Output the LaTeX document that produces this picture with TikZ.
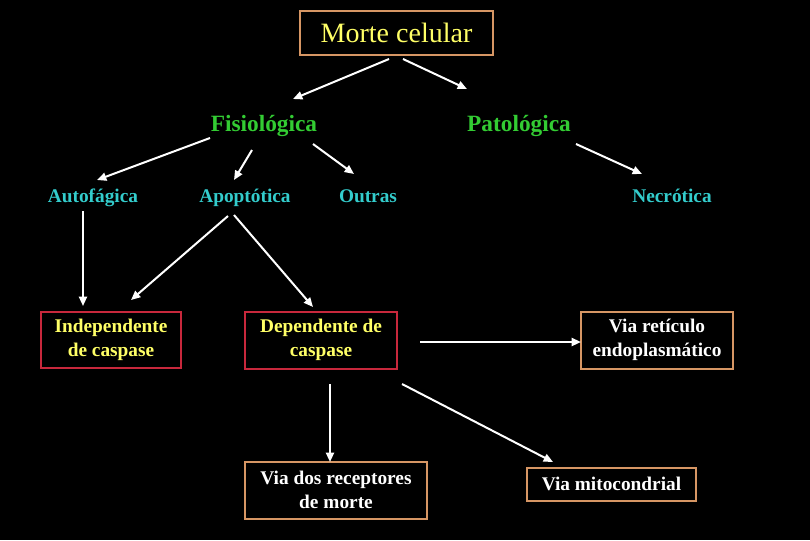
\documentclass[tikz,border=0pt]{standalone}
\usepackage{fontspec}
\setmainfont{Liberation Serif}
\usetikzlibrary{arrows.meta}
\definecolor{ylw}{RGB}{255,255,102}
\definecolor{cyn}{RGB}{51,204,204}
\definecolor{grn}{RGB}{51,204,51}
\definecolor{tan}{RGB}{214,150,100}
\definecolor{crim}{RGB}{200,40,60}
\tikzset{
  lvl/.style={font=\bfseries\fontsize{17.5}{20}\selectfont, text=grn, inner sep=0pt},
  kind/.style={font=\bfseries\fontsize{14.5}{18}\selectfont, text=cyn, inner sep=0pt},
  boxbase/.style={draw, line width=1.5pt, align=center, inner sep=0pt, font=\bfseries\fontsize{14.5}{18}\selectfont},
  redbox/.style={boxbase, draw=crim, text=ylw},
  tanbox/.style={boxbase, draw=tan, text=white},
  conn/.style={draw=white, line width=1.5pt, -{Triangle[length=7pt,width=6pt]}},
}
\begin{document}
\begin{tikzpicture}[x=0.75pt,y=-0.75pt]
\fill[black] (0,0) rectangle (810,540);
\useasboundingbox (0,0) rectangle (810,540);

\node[draw=tan, line width=1.5pt, minimum width=193*0.75pt, minimum height=44*0.75pt, inner sep=0pt,
      text=ylw, font=\fontsize{21}{24}\selectfont] (morte) at (396.5,33) {Morte celular};

\node[lvl] (fis) at (264,126) {Fisiológica};
\node[lvl] (pat) at (519,126) {Patológica};

\node[kind] (auto) at (93,198) {Autofágica};
\node[kind] (apo) at (245,198) {Apoptótica};
\node[kind] (out) at (368,196) {Outras};
\node[kind] (nec) at (672,196) {Necrótica};

\node[redbox, minimum width=140*0.75pt, minimum height=56*0.75pt] (indep) at (111,340) {Independente\\de caspase};
\node[redbox, minimum width=152*0.75pt, minimum height=57*0.75pt] (dep) at (321,340) {Dependente de\\caspase};
\node[tanbox, minimum width=152*0.75pt, minimum height=57*0.75pt] (ret) at (657,340) {Via retículo\\endoplasmático};
\node[tanbox, minimum width=182*0.75pt, minimum height=57*0.75pt] (rec) at (336,490) {Via dos receptores\\de morte};
\node[tanbox, minimum width=169*0.75pt, minimum height=33*0.75pt] (mito) at (611.5,484) {Via mitocondrial};

% connector end points
\coordinate (m1) at (389,59);   \coordinate (f0) at (293,99);
\coordinate (m2) at (403,59);   \coordinate (p0) at (467,89);
\coordinate (f1) at (210,138);  \coordinate (au0) at (97,180);
\coordinate (f2) at (252,150);  \coordinate (ap0) at (234,180);
\coordinate (f3) at (313,144);  \coordinate (o0) at (354,174);
\coordinate (p1) at (576,144);  \coordinate (n0) at (642,174);
\coordinate (au1) at (83,211);  \coordinate (i0) at (83,306);
\coordinate (ap1) at (228,216); \coordinate (i1) at (131,300);
\coordinate (ap2) at (234,215); \coordinate (d0) at (313,307);
\coordinate (d1) at (420,342);  \coordinate (r0) at (581,342);
\coordinate (d2) at (402,384);  \coordinate (mi0) at (553,462);
\coordinate (d3) at (330,384);  \coordinate (rc0) at (330,462);

\draw[conn] (m1) -- (f0);
\draw[conn] (m2) -- (p0);
\draw[conn] (f1) -- (au0);
\draw[conn] (f2) -- (ap0);
\draw[conn] (f3) -- (o0);
\draw[conn] (p1) -- (n0);
\draw[conn] (au1) -- (i0);
\draw[conn] (ap1) -- (i1);
\draw[conn] (ap2) -- (d0);
\draw[conn] (d1) -- (r0);
\draw[conn] (d2) -- (mi0);
\draw[conn] (d3) -- (rc0);
\end{tikzpicture}
\end{document}
